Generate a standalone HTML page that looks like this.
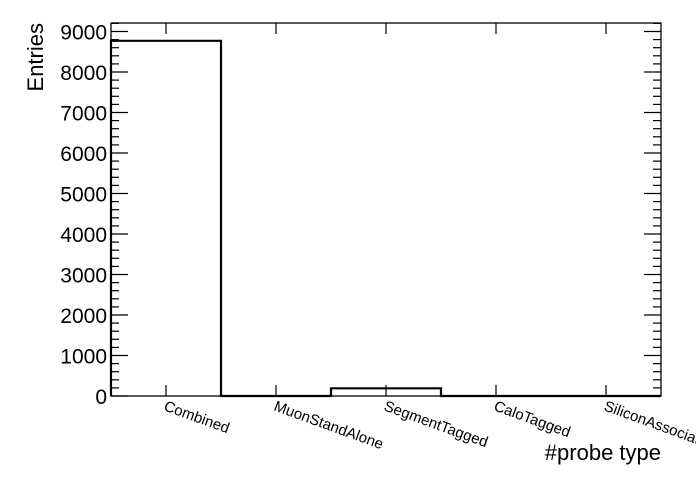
<!DOCTYPE html>
<html><head><meta charset="utf-8"><style>
body{margin:0;background:#fff}
svg text{font-family:"Liberation Sans",Arial,sans-serif;fill:#000}
</style></head><body>
<svg width="696" height="472" xmlns="http://www.w3.org/2000/svg">
<g id="axes"></g>
</svg>
<script>
const categories=["Combined","MuonStandAlone","SegmentTagged","CaloTagged","SiliconAssociatedForward"];
const counts=[8770,0,190,0,0];
const yTicks=[0,1000,2000,3000,4000,5000,6000,7000,8000,9000];
const L=111,R=661,T=23,B=396,yMax=9210;
const NS="http://www.w3.org/2000/svg";
const g=document.getElementById('axes');
const y=v=>B-(v/yMax)*(B-T);
const bw=(R-L)/categories.length;
const x=i=>L+i*bw;
function mk(t,a){const e=document.createElementNS(NS,t);for(const k in a)e.setAttribute(k,a[k]);g.appendChild(e);return e;}
let f=mk('rect',{x:L,y:T,width:R-L,height:B-T,fill:'none',stroke:'#000','stroke-width':1.3});


for(let v=0;v<=yMax;v+=200){
  const major=v%1000===0,len=major?17:8,yy=y(v);
  let t1=mk('line',{x1:L,x2:L+len,y1:yy,y2:yy,stroke:'#000','stroke-width':1.2});
  
  
  let t2=mk('line',{x1:R,x2:R-len,y1:yy,y2:yy,stroke:'#000','stroke-width':1.2});
  
  
}
yTicks.forEach(v=>{
  let t=mk('text',{x:L-4,y:y(v)+8,'text-anchor':'end','font-size':21});
  t.textContent=v;
  
  
});
categories.forEach((c,i)=>{
  const cx=x(i)+bw/2;
  let a=mk('line',{x1:cx,x2:cx,y1:B,y2:B-11,stroke:'#000','stroke-width':1.2});
  
  
  let b=mk('line',{x1:cx,x2:cx,y1:T,y2:T+11,stroke:'#000','stroke-width':1.2});
  
  
  let t=mk('text',{x:cx-3,y:B+14,'font-size':15,transform:`rotate(20 ${cx-3} ${B+14})`});
  t.textContent=c;
  
  
});
let d=`M${L},${B}`;
counts.forEach((v,i)=>{d+=` L${x(i)},${y(v)} L${x(i+1)},${y(v)}`;});
d+=` L${R},${B}`;
let p=mk('path',{d:d,fill:'none',stroke:'#000','stroke-width':2.2});


let xt=mk('text',{x:R,y:460,'text-anchor':'end','font-size':22});
xt.textContent='#probe type';


let yt=mk('text',{x:43,y:T,'text-anchor':'end','font-size':22,transform:`rotate(-90 43 ${T})`});
yt.textContent='Entries';


</script>
</body></html>
